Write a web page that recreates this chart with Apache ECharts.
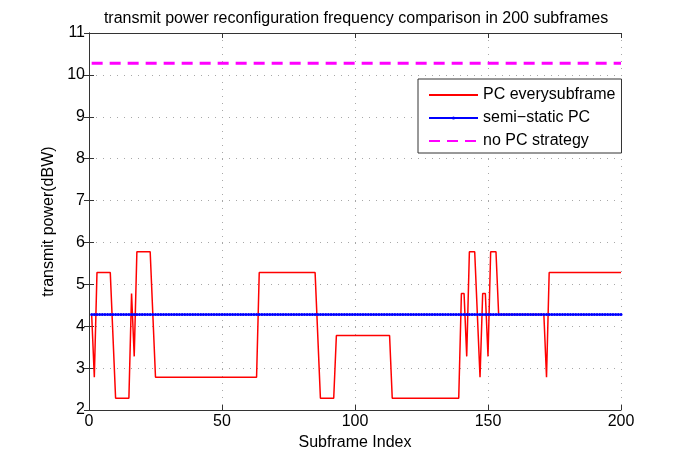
<!DOCTYPE html>
<html>
<head>
<meta charset="utf-8">
<script src="https://cdn.jsdelivr.net/npm/echarts@6/dist/echarts.min.js"></script>
<style>html,body{margin:0;padding:0;background:#fff}#c{width:685px;height:461px}</style>
</head>
<body>
<div id="c"></div>
<script>
// Subframe indices 1..200
const subframes = Array.from({length: 200}, (_, i) => i + 1);
// "PC everysubframe": vertices of the piecewise-linear red line
const pcIdx = [1, 2, 3, 8, 10, 15, 16, 17, 18, 23, 25, 63, 64, 85, 87, 92, 93, 113, 114, 139, 140, 141, 142, 143, 145, 147, 148, 149, 150, 151, 153, 154, 171, 172, 173, 200];
const pcVal = [4.28, 2.78, 5.28, 5.28, 2.28, 2.28, 4.78, 3.28, 5.78, 5.78, 2.78, 2.78, 5.28, 5.28, 2.28, 2.28, 3.78, 3.78, 2.28, 2.28, 4.78, 4.78, 3.28, 5.78, 5.78, 2.78, 4.78, 4.78, 3.28, 5.78, 5.78, 4.28, 4.28, 2.78, 5.28, 5.28];
// "semi-static PC": constant level
const semiStaticLevel = 4.28;
// "no PC strategy": constant level
const noPcLevel = 10.28;
const xTicks = [0, 50, 100, 150, 200];
const yTicks = [2, 3, 4, 5, 6, 7, 8, 9, 10, 11];
const seriesNames = ['PC everysubframe', 'semi\u2212static PC', 'no PC strategy'];
const titleText = 'transmit power reconfiguration frequency comparison in 200 subframes';

const FONT = 'Liberation Sans, Arial, Helvetica, sans-serif';
const chart = echarts.init(document.getElementById('c'), null, {renderer: 'canvas'});

const pcData = pcIdx.map((x, i) => [x, pcVal[i]]);
const semiData = subframes.map(x => [x, semiStaticLevel]);
const noPcData = [[subframes[0], noPcLevel], [subframes[subframes.length - 1], noPcLevel]];

const gridLine = {show: true, lineStyle: {color: '#a8a8a8', width: 1, type: [1, 6]}};
const axisLine = {show: true, lineStyle: {color: '#333', width: 1}};
const tick = {show: true, inside: true, length: 5, lineStyle: {color: '#333'}};
const lbl = {color: '#000', fontSize: 16, fontFamily: FONT};

chart.setOption({
  animation: false,
  backgroundColor: '#fff',
  title: {
    text: titleText, left: 351, top: 6, textAlign: 'center',
    textStyle: {fontSize: 16, fontWeight: 'normal', color: '#000', fontFamily: FONT}
  },
  grid: {left: 89, right: 64, top: 33, bottom: 51, containLabel: false},
  legend: {
    left: 418, top: 79, orient: 'vertical',
    data: [
      {name: seriesNames[0], itemStyle: {opacity: 0}},
      {name: seriesNames[1]},
      {name: seriesNames[2], itemStyle: {opacity: 0}}
    ],
    itemWidth: 49, itemHeight: 4, itemGap: 7,
    padding: [8, 6, 4, 10],
    backgroundColor: '#fff', borderColor: '#333', borderWidth: 1,
    textStyle: {fontSize: 16, color: '#000', fontFamily: FONT}
  },
  xAxis: [
    {type: 'value', min: 0, max: 200, interval: 50, position: 'bottom',
     name: 'Subframe Index', nameLocation: 'middle', nameGap: 22,
     nameTextStyle: {fontSize: 16, color: '#000', fontFamily: FONT},
     axisLine, axisTick: tick, axisLabel: Object.assign({margin: 4}, lbl), splitLine: gridLine},
    {type: 'value', min: 0, max: 200, interval: 50, position: 'top',
     axisLine, axisTick: tick, axisLabel: {show: false}, splitLine: {show: false}}
  ],
  yAxis: [
    {type: 'value', min: 2, max: 11, interval: 1, position: 'left',
     name: 'transmit power(dBW)', nameLocation: 'middle', nameGap: 22,
     nameTextStyle: {fontSize: 16, color: '#000', fontFamily: FONT},
     axisLine, axisTick: tick, axisLabel: Object.assign({margin: 4}, lbl), splitLine: gridLine},
    {type: 'value', min: 2, max: 11, interval: 1, position: 'right',
     axisLine, axisTick: tick, axisLabel: {show: false}, splitLine: {show: false}}
  ],
  series: [
    {name: seriesNames[0], type: 'line', data: pcData, showSymbol: false, symbol: 'none',
     lineStyle: {color: '#ff0000', width: 1.5}, itemStyle: {color: '#ff0000'}},
    {name: seriesNames[1], type: 'line', data: semiData, symbol: 'circle', symbolSize: 3,
     showSymbol: true,
     lineStyle: {color: '#0000ff', width: 1.5}, itemStyle: {color: '#0000ff'}},
    {name: seriesNames[2], type: 'line', data: noPcData, symbol: 'none',
     lineStyle: {color: '#ff00ff', width: 3, type: [11, 7]}, itemStyle: {color: '#ff00ff'}}
  ]
});
</script>
</body>
</html>
